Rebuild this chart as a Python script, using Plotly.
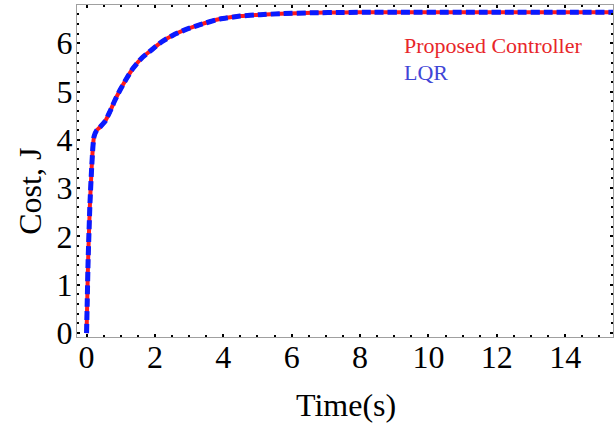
import plotly.graph_objects as go

# Data
t = [0.0, 0.02, 0.045, 0.07, 0.1, 0.15, 0.19, 0.22, 0.3, 0.39, 0.54, 0.68, 0.83, 0.98, 1.17, 1.36, 1.61, 1.9, 2.2, 2.54, 2.93, 3.3, 3.9, 4.49, 5.08, 5.66, 6.63, 7.5, 8.4, 9.5, 10.5, 11.5, 12.5, 13.5, 14.5, 15.4]
proposed = [0.0, 0.68, 1.5, 2.07, 2.7, 3.44, 3.9, 4.07, 4.2, 4.26, 4.38, 4.58, 4.82, 5.03, 5.27, 5.48, 5.69, 5.86, 6.03, 6.17, 6.29, 6.38, 6.5, 6.56, 6.59, 6.61, 6.63, 6.635, 6.64, 6.64, 6.64, 6.64, 6.64, 6.64, 6.64, 6.64]
lqr = list(proposed)

x_ticks = [0, 2, 4, 6, 8, 10, 12, 14]
y_ticks = [0, 1, 2, 3, 4, 5, 6]

font_family = "Liberation Serif"

fig = go.Figure()
fig.add_trace(go.Scatter(x=t, y=proposed, mode="lines",
                         line=dict(color="#ff1a1a", width=4, shape="spline", smoothing=0.5),
                         name="Proposed Controller"))
fig.add_trace(go.Scatter(x=t, y=lqr, mode="lines",
                         line=dict(color="#0a1aff", width=5, dash="9px,4px", shape="spline", smoothing=0.5),
                         name="LQR"))

fig.add_annotation(x=0.606, y=0.878, xref="paper", yref="paper", xanchor="left", yanchor="middle",
                   text="Proposed Controller", showarrow=False,
                   font=dict(family=font_family, size=22, color="#e8262a"))
fig.add_annotation(x=0.606, y=0.797, xref="paper", yref="paper", xanchor="left", yanchor="middle",
                   text="LQR", showarrow=False,
                   font=dict(family=font_family, size=22, color="#3f45d6"))

# axis titles
fig.add_annotation(x=0.501, y=-0.205, xref="paper", yref="paper", xanchor="center", yanchor="middle",
                   text="Time(s)", showarrow=False,
                   font=dict(family=font_family, size=32, color="black"))
fig.add_annotation(x=-0.088, y=0.44, xref="paper", yref="paper", xanchor="center", yanchor="middle",
                   text="Cost, J", showarrow=False, textangle=-90,
                   font=dict(family=font_family, size=32, color="black"))

axis_common = dict(showline=True, linecolor="#a0a0a0", linewidth=1, mirror="allticks", ticks="inside",
                   ticklen=3, tickwidth=2, tickcolor="black", showgrid=False, zeroline=False,
                   automargin=False,
                   tickfont=dict(family=font_family, size=32, color="black"))

fig.update_xaxes(range=[-0.28, 15.4], tickvals=x_ticks, ticklabelstandoff=-8,
                 minor=dict(dtick=0.5, ticks="inside", ticklen=2, tickwidth=1.5, tickcolor="black", showgrid=False),
                 **axis_common)
fig.update_yaxes(range=[-0.08, 6.79], tickvals=y_ticks, ticklabelstandoff=-3,
                 minor=dict(dtick=0.2, ticks="inside", ticklen=2, tickwidth=1.5, tickcolor="black", showgrid=False),
                 **axis_common)

fig.update_layout(width=615, height=423, margin=dict(l=77, r=2, t=5, b=86, autoexpand=False),
                  plot_bgcolor="white", paper_bgcolor="white", showlegend=False)

fig.write_html("out.html", config={"displayModeBar": False},
               post_script="document.body.style.margin='0';")
